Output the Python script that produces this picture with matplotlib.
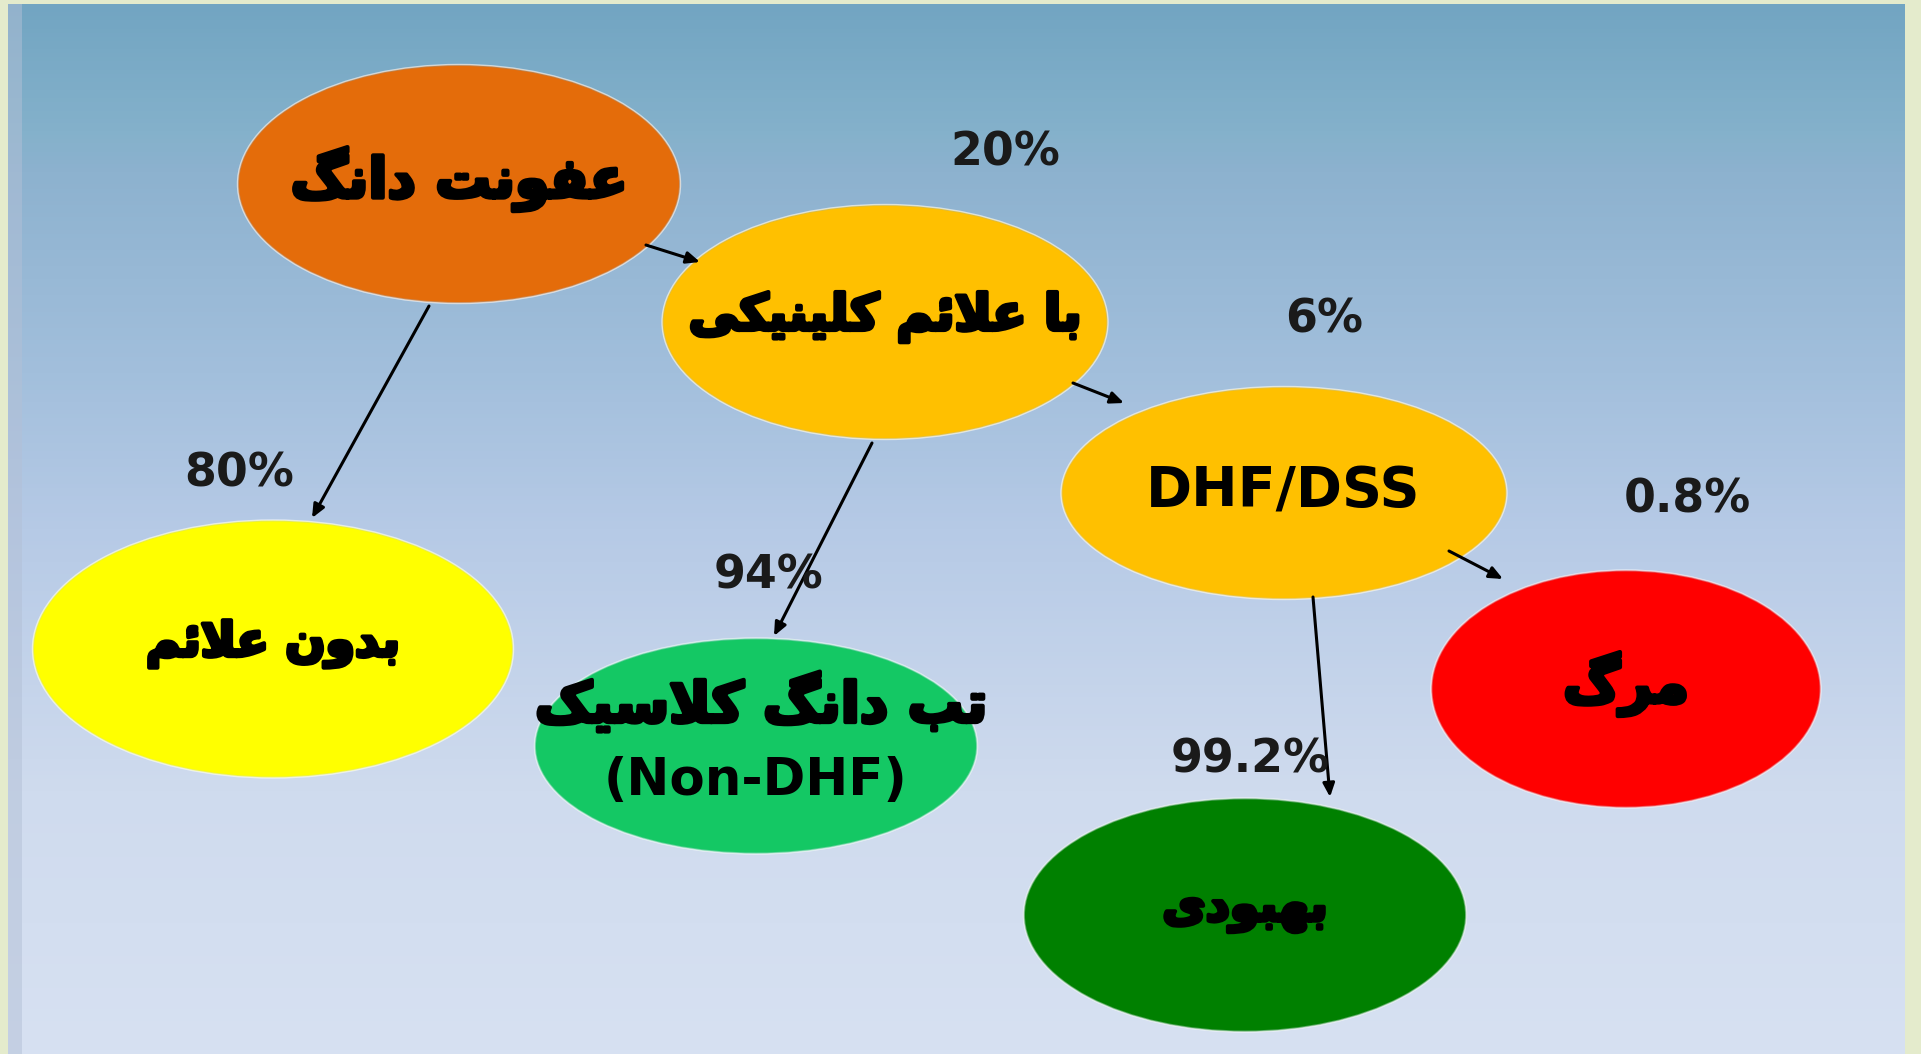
import matplotlib
matplotlib.use("Agg")
import matplotlib.pyplot as plt
import matplotlib.patheffects as pe
from matplotlib.colors import LinearSegmentedColormap
from matplotlib.patches import Ellipse, Rectangle
import numpy as np

# ── Data ────────────────────────────────────────────────────────────────
NODE_LABELS = [
    "عفونت دانگ",
    "با علائم کلینیکی",
    "DHF/DSS",
    "بدون علائم",
    "تب دانگ کلاسیک",
    "مرگ",
    "بهبودی",
]
NODE_SUBLABELS = ["", "", "", "", "(Non-DHF)", "", ""]
NODE_COLORS = ["#E46C0A", "#FFC000", "#FFC000", "#FFFF00", "#14C864", "#FF0000", "#008000"]
EDGES = [(0, 3), (0, 1), (1, 4), (1, 2), (2, 6), (2, 5)]
EDGE_PERCENT = ["80%", "20%", "94%", "6%", "99.2%", "0.8%"]

# ── Layout (pixel coordinates, y down) ──────────────────────────────────
W, H = 1921, 1054
NODE_XY = [(459, 184), (885, 322), (1284, 493), (273, 649), (756, 746), (1626, 689), (1245, 915)]
NODE_WH = [(443, 239), (446, 235), (446, 213), (481, 258), (443, 216), (390, 238), (443, 234)]
NODE_FONTSIZE = [40, 36, 40, 34, 40, 40, 34]
ARROWS = [((429, 306), (312, 518)), ((646, 245), (700, 262)), ((872, 443), (774, 636)),
          ((1073, 383), (1124, 403)), ((1313, 597), (1330, 797)), ((1449, 551), (1503, 579))]
PCT_XY = [(239, 474), (1005, 153), (769, 576), (1324, 320), (1250, 760), (1687, 500)]

# ── Minimal Persian shaping (matplotlib has no bidi/joining support) ────
FORMS = {
    # iso, fin, ini, med
    "ا": ("\uFE8D", "\uFE8E", None, None),
    "د": ("\uFEA9", "\uFEAA", None, None),
    "ر": ("\uFEAD", "\uFEAE", None, None),
    "و": ("\uFEED", "\uFEEE", None, None),
    "ب": ("\uFE8F", "\uFE90", "\uFE91", "\uFE92"),
    "ت": ("\uFE95", "\uFE96", "\uFE97", "\uFE98"),
    "س": ("\uFEB1", "\uFEB2", "\uFEB3", "\uFEB4"),
    "ع": ("\uFEC9", "\uFECA", "\uFECB", "\uFECC"),
    "ف": ("\uFED1", "\uFED2", "\uFED3", "\uFED4"),
    "ل": ("\uFEDD", "\uFEDE", "\uFEDF", "\uFEE0"),
    "م": ("\uFEE1", "\uFEE2", "\uFEE3", "\uFEE4"),
    "ن": ("\uFEE5", "\uFEE6", "\uFEE7", "\uFEE8"),
    "ه": ("\uFEE9", "\uFEEA", "\uFEEB", "\uFEEC"),
    "ئ": ("\uFE89", "\uFE8A", "\uFE8B", "\uFE8C"),
    "ک": ("\uFB8E", "\uFB8F", "\uFB90", "\uFB91"),
    "گ": ("\uFB92", "\uFB93", "\uFB94", "\uFB95"),
    "ی": ("\uFBFC", "\uFBFD", "\uFBFE", "\uFBFF"),
}


def dual(ch):
    return ch in FORMS and FORMS[ch][2] is not None


def shape(text):
    if not any(ch in FORMS for ch in text):
        return text
    out = []
    i = 0
    while i < len(text):
        ch = text[i]
        if ch not in FORMS:
            out.append(ch)
            i += 1
            continue
        prev_join = i > 0 and dual(text[i - 1])
        if ch == "ل" and i + 1 < len(text) and text[i + 1] == "ا":
            out.append("\uFEFC" if prev_join else "\uFEFB")
            i += 2
            continue
        next_join = dual(ch) and i + 1 < len(text) and text[i + 1] in FORMS
        iso, fin, ini, med = FORMS[ch]
        if prev_join and next_join:
            out.append(med)
        elif prev_join:
            out.append(fin)
        elif next_join:
            out.append(ini)
        else:
            out.append(iso)
        i += 1
    return "".join(reversed(out))


def main():
    fig = plt.figure(figsize=(W / 100, H / 100), dpi=100)
    fig.patch.set_facecolor("#E4EBCC")
    ax = fig.add_axes([0, 0, 1, 1])
    ax.set_xlim(0, W)
    ax.set_ylim(H, 0)
    ax.axis("off")

    # background panel gradient
    bg = LinearSegmentedColormap.from_list(
        "bg",
        [(0.0, "#72A5C2"), (0.12, "#84B1CB"), (0.16, "#8DB2CF"),
         (0.35, "#A2BFDC"), (0.5, "#B6CAE6"), (0.75, "#CFDBEE"), (1.0, "#D7E1F2")],
    )
    grad = np.linspace(0, 1, 256).reshape(-1, 1)
    ax.imshow(grad, cmap=bg, aspect="auto", extent=(8, 1905, H, 4), zorder=0)
    ax.add_patch(Rectangle((8, 4), 14, H, facecolor="#B3C0D6", alpha=0.5, lw=0, zorder=1))

    for (x, y), (w, h), c in zip(NODE_XY, NODE_WH, NODE_COLORS):
        ax.add_patch(Ellipse((x, y), w, h, facecolor=c, edgecolor="white",
                             lw=1.0, alpha=0.6, zorder=2))
        ax.add_patch(Ellipse((x, y), w - 3, h - 3, facecolor=c, edgecolor="none", zorder=2))

    heavy = [pe.withStroke(linewidth=3, foreground="black")]
    for i, (label, sub) in enumerate(zip(NODE_LABELS, NODE_SUBLABELS)):
        x, y = NODE_XY[i]
        fs = NODE_FONTSIZE[i]
        is_latin = shape(label) == label
        if sub:
            ax.text(x + 5, y - 42, shape(label), fontsize=fs, fontweight="bold",
                    ha="center", va="center", family="DejaVu Sans",
                    path_effects=heavy, zorder=4)
            ax.text(x, y + 35, sub, fontsize=37, fontweight="bold",
                    ha="center", va="center", family="DejaVu Sans", zorder=4)
        elif is_latin:
            ax.text(x - 1, y - 2, label, fontsize=fs, fontweight="bold",
                    ha="center", va="center", family="DejaVu Sans", zorder=4)
        else:
            ax.text(x, y - 5, shape(label), fontsize=fs, fontweight="bold",
                    ha="center", va="center", family="DejaVu Sans",
                    path_effects=heavy, zorder=4)

    for (start, end) in ARROWS:
        ax.annotate("", xy=end, xytext=start,
                    arrowprops=dict(arrowstyle="-|>,head_width=0.35,head_length=0.8",
                                    color="black", lw=2.2, shrinkA=0, shrinkB=0),
                    zorder=3)

    for pct, (x, y) in zip(EDGE_PERCENT, PCT_XY):
        ax.text(x, y, pct, fontsize=33, fontweight="bold", color="#1a1a1a",
                ha="center", va="center", family="DejaVu Sans", zorder=5)

    fig.savefig("out.png", dpi=100, facecolor=fig.get_facecolor())
    plt.close(fig)


if __name__ == "__main__":
    main()
